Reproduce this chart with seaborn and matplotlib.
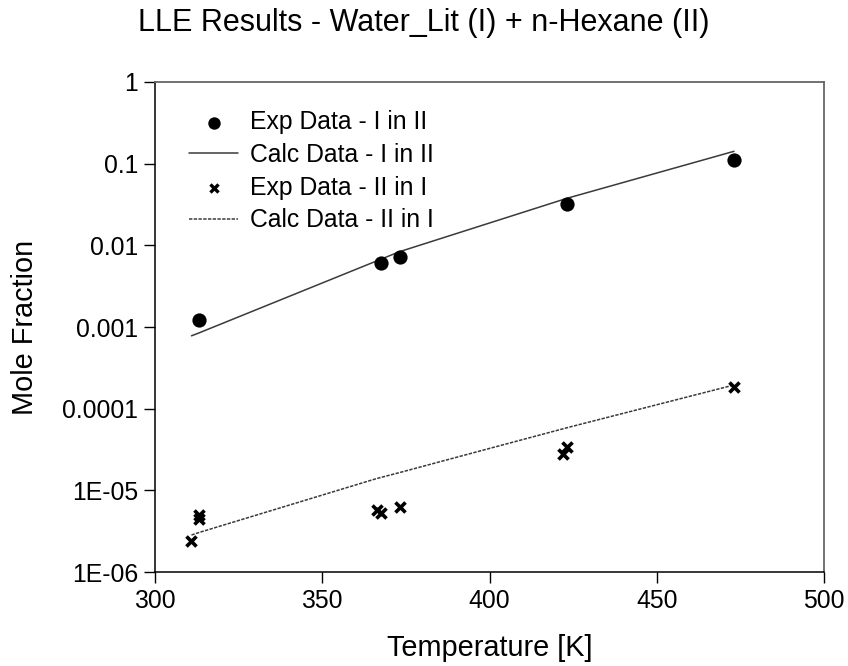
import matplotlib
matplotlib.use("Agg")
import matplotlib.pyplot as plt
import matplotlib.ticker as mticker
import seaborn as sns
import pandas as pd

# Experimental solubility of water (I) in n-hexane (II)
exp_I_in_II_T = [313.1, 367.5, 373.1, 423.2, 473.1]
exp_I_in_II_x = [0.00122, 0.00613, 0.00726, 0.0321, 0.111]

# Calculated solubility of water (I) in n-hexane (II)
calc_I_in_II_T = [310.9, 313.1, 367.5, 373.1, 423.2, 473.1]
calc_I_in_II_x = [0.00078, 0.000845, 0.00675, 0.00836, 0.0377, 0.1417]

# Experimental solubility of n-hexane (II) in water (I)
exp_II_in_I_T = [310.9, 313.2, 313.2, 366.4, 367.6, 373.1, 422.0, 423.2, 473.1]
exp_II_in_I_x = [2.40e-6, 5.0e-6, 4.42e-6, 5.75e-6, 5.3e-6, 6.3e-6, 2.77e-5, 3.43e-5, 1.86e-4]

# Calculated solubility of n-hexane (II) in water (I)
calc_II_in_I_T = [310.9, 313.2, 366.4, 373.1, 397.1, 423.2, 473.1]
calc_II_in_I_x = [2.84e-6, 3.05e-6, 1.40e-5, 1.65e-5, 3.03e-5, 5.85e-5, 1.95e-4]

y_ticks = [1e-6, 1e-5, 1e-4, 1e-3, 1e-2, 1e-1, 1]
y_tick_labels = ["1E-06", "1E-05", "0.0001", "0.001", "0.01", "0.1", "1"]
x_ticks = [300, 350, 400, 450, 500]

sns.set_theme(style="ticks")
plt.rcParams["font.family"] = ["Liberation Sans", "DejaVu Sans"]
plt.rcParams["text.color"] = "black"
plt.rcParams["axes.labelcolor"] = "black"
plt.rcParams["xtick.color"] = "black"
plt.rcParams["ytick.color"] = "black"

fig = plt.figure(figsize=(8.48, 6.66), dpi=100)
ax = fig.add_axes([0.1828, 0.1411, 0.7889, 0.7358])

df_e1 = pd.DataFrame({"T": exp_I_in_II_T, "x": exp_I_in_II_x})
df_c1 = pd.DataFrame({"T": calc_I_in_II_T, "x": calc_I_in_II_x})
df_e2 = pd.DataFrame({"T": exp_II_in_I_T, "x": exp_II_in_I_x})
df_c2 = pd.DataFrame({"T": calc_II_in_I_T, "x": calc_II_in_I_x})

sns.scatterplot(data=df_e1, x="T", y="x", ax=ax, marker="o", s=105,
                color="black", edgecolor="black", linewidth=0,
                label="Exp Data - I in II", zorder=3)
sns.lineplot(data=df_c1, x="T", y="x", ax=ax, color="#3a3a3a", linewidth=1.1,
             label="Calc Data - I in II", sort=False, zorder=2)
sns.scatterplot(data=df_e2, x="T", y="x", ax=ax, marker="x", s=52,
                color="black", linewidth=2.6,
                label="Exp Data - II in I", zorder=3)
sns.lineplot(data=df_c2, x="T", y="x", ax=ax, color="#3a3a3a", linewidth=1.1,
             dashes=False, label="Calc Data - II in I", sort=False, zorder=2)
ax.lines[-1].set_linestyle((0, (2.2, 0.9)))

ax.set_yscale("log")
ax.set_xlim(300, 500)
ax.set_ylim(1e-6, 1)
ax.set_xticks(x_ticks)
ax.set_xticklabels([str(t) for t in x_ticks])
ax.yaxis.set_major_locator(mticker.FixedLocator(y_ticks))
ax.yaxis.set_major_formatter(mticker.FixedFormatter(y_tick_labels))
ax.yaxis.set_minor_locator(mticker.NullLocator())

ax.tick_params(axis="both", which="major", direction="out", length=8,
               width=1, color="black", labelcolor="black", labelsize=17.8, pad=4)
ax.tick_params(top=False, right=False)

for side in ["left", "bottom"]:
    ax.spines[side].set_color("black")
    ax.spines[side].set_linewidth(1.1)
for side in ["top", "right"]:
    ax.spines[side].set_visible(True)
    ax.spines[side].set_color("#666666")
    ax.spines[side].set_linewidth(1.3)

ax.set_xlabel("Temperature [K]", fontsize=20.8, labelpad=15, color="black")
ax.set_ylabel("Mole Fraction", fontsize=20.8, labelpad=17, color="black")
fig.text(0.5, 1 - 31 / 666, "LLE Results - Water_Lit (I) + n-Hexane (II)",
         fontsize=22, ha="center", va="baseline", color="black")

leg = ax.legend(loc="upper left", bbox_to_anchor=(0.036, 0.962), frameon=False,
                fontsize=17.8, handlelength=2.0, handletextpad=0.45,
                labelspacing=0.35, borderaxespad=0)
for t in leg.get_texts():
    t.set_color("black")
leg.legend_handles[0].set_sizes([80])
leg.legend_handles[2].set_sizes([34])
leg.legend_handles[2].set_linewidth(2.4)

fig.savefig("out.png", dpi=100, facecolor="white")
